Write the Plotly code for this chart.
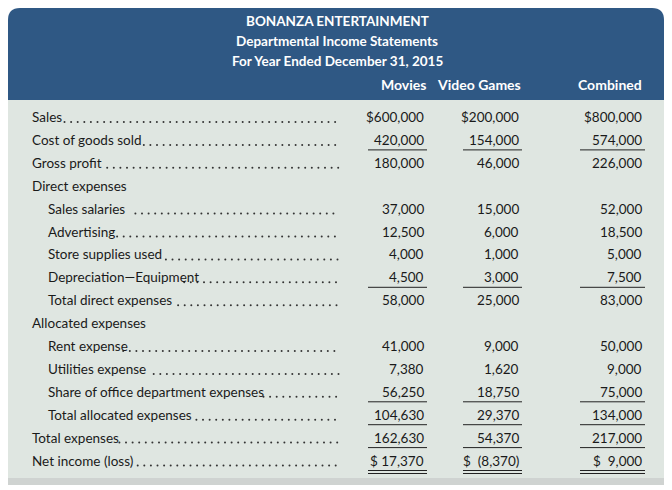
import plotly.graph_objects as go

title_lines = ["BONANZA ENTERTAINMENT", "Departmental Income Statements", "For Year Ended December 31, 2015"]
columns = ["Movies", "Video Games", "Combined"]
labels = ["Sales", "Cost of goods sold", "Gross profit", "Direct expenses", "Sales salaries", "Advertising",
          "Store supplies used", "Depreciation—Equipment", "Total direct expenses", "Allocated expenses",
          "Rent expense", "Utilities expense", "Share of office department expenses", "Total allocated expenses",
          "Total expenses", "Net income (loss)"]
indent = [0, 0, 0, 0, 1, 1, 1, 1, 1, 0, 1, 1, 1, 1, 0, 0]
leader = [1, 1, 1, 0, 1, 1, 1, 1, 1, 0, 1, 1, 1, 1, 1, 1]
movies = ["$600,000", "420,000", "180,000", "", "37,000", "12,500", "4,000", "4,500", "58,000", "",
          "41,000", "7,380", "56,250", "104,630", "162,630", "$ 17,370"]
video = ["$200,000", "154,000", "46,000", "", "15,000", "6,000", "1,000", "3,000", "25,000", "",
         "9,000", "1,620", "18,750", "29,370", "54,370", "$  (8,370)"]
combined = ["$800,000", "574,000", "226,000", "", "52,000", "18,500", "5,000", "7,500", "83,000", "",
            "50,000", "9,000", "75,000", "134,000", "217,000", "$  9,000"]
underline = [0, 1, 0, 0, 0, 0, 0, 1, 0, 0, 0, 0, 1, 1, 1, 2]

FONT = "Lato"
col_right = [426, 521, 644]
col_span = [(368, 427), (463, 522), (580, 645)]
row0, dy = 117, 22.9

fig = go.Figure()
shapes = [
    dict(type="rect", x0=8, x1=664, y0=100, y1=480, fillcolor="#dfe6e1", line_width=0, layer="below"),
    dict(type="rect", x0=8, x1=664, y0=478, y1=485, fillcolor="#cfd3d1", line_width=0, layer="below"),
    dict(type="path", path="M 8 100 L 8 20 Q 8 8 20 8 L 652 8 Q 664 8 664 20 L 664 100 Z",
         fillcolor="#2f5884", line_width=0, layer="below"),
]
ann = []
for i, t in enumerate(title_lines):
    ann.append(dict(x=337, y=21 + i * 20, text=f"<b>{t}</b>", xanchor="center", yanchor="middle",
                    font=dict(family=FONT, size=13.5, color="white"), showarrow=False))
for c, r in zip(columns, col_right):
    ann.append(dict(x=r + (2 if c != "Combined" else 0), y=84, text=f"<b>{c}</b>", xanchor="right", yanchor="middle",
                    font=dict(family=FONT, size=14, color="white"), showarrow=False))

dx, dyy = [], []
for i, lab in enumerate(labels):
    y = row0 + i * dy
    x0 = 30 + 16 * indent[i]
    ann.append(dict(x=x0, y=y, text=lab, xanchor="left", yanchor="middle",
                    font=dict(family=FONT, size=13.5, color="#1a1a1a"), showarrow=False))
    if leader[i]:
        start = x0 + len(lab) * 6.1 + 4
        k = 0
        while start + k * 6.6 < 340:
            dx.append(start + k * 6.6); dyy.append(y + 5); k += 1
    for vals, r, sp in zip([movies, video, combined], col_right, col_span):
        if vals[i]:
            ann.append(dict(x=r, y=y, text=vals[i], xanchor="right", yanchor="middle",
                            font=dict(family=FONT, size=13.5, color="#1a1a1a"), showarrow=False))
        if underline[i] >= 1:
            shapes.append(dict(type="line", x0=sp[0], x1=sp[1], y0=y + 10, y1=y + 10, line=dict(color="#222", width=1)))
        if underline[i] == 2:
            shapes.append(dict(type="line", x0=sp[0], x1=sp[1], y0=y + 13, y1=y + 13, line=dict(color="#222", width=1)))

fig.add_trace(go.Scatter(x=dx, y=dyy, mode="markers", marker=dict(size=2, color="#333"), hoverinfo="skip"))
fig.update_layout(width=672, height=490, margin=dict(l=0, r=0, t=0, b=0), paper_bgcolor="white",
                  plot_bgcolor="white", showlegend=False, shapes=shapes, annotations=ann,
                  xaxis=dict(range=[8, 680], visible=False, fixedrange=True),
                  yaxis=dict(range=[498, 8], visible=False, fixedrange=True))
fig.write_html("out.html")
